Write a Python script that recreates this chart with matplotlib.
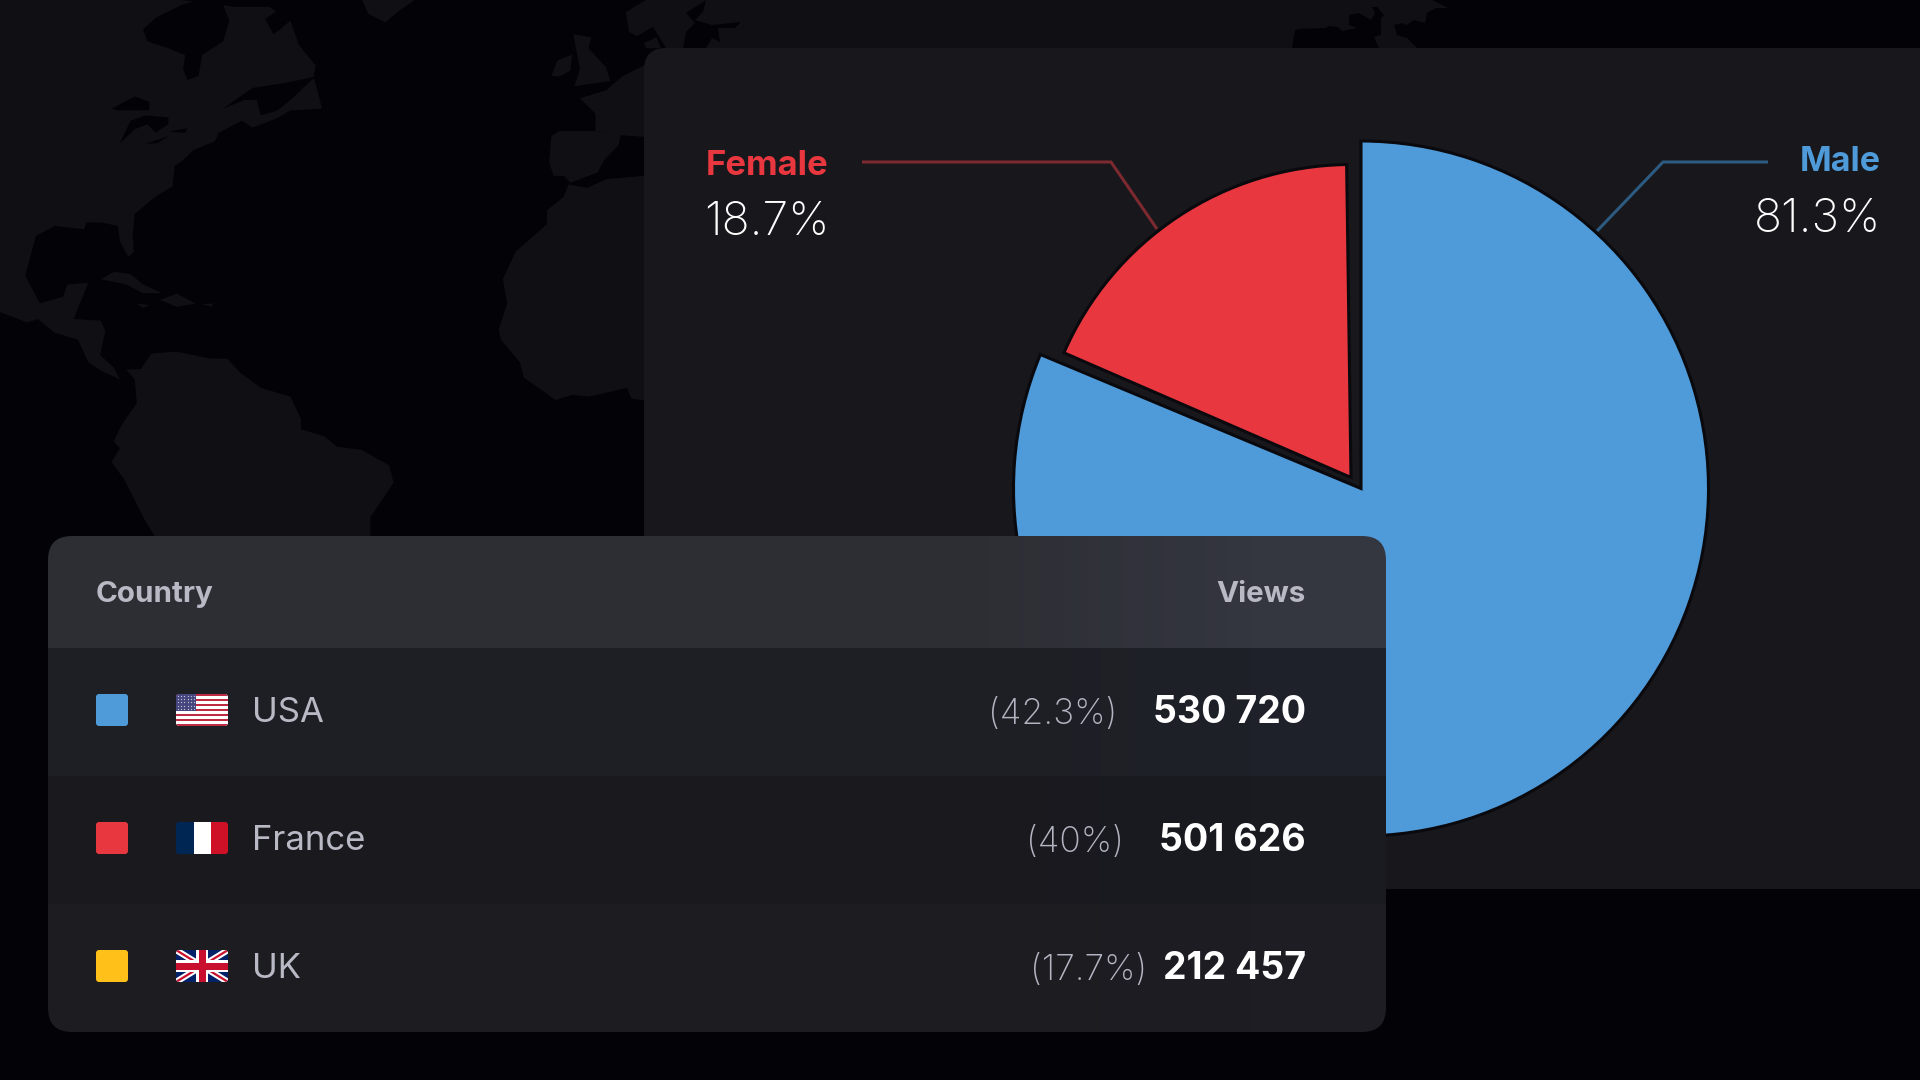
import numpy as np
import matplotlib
matplotlib.use("Agg")
import matplotlib.pyplot as plt
from matplotlib.patches import FancyBboxPatch, Polygon, Rectangle
from matplotlib.colors import to_rgb

# ---------- chart data ----------
genders = ["Male", "Female"]
gender_share = [81.3, 18.7]
gender_labels = ["81.3%", "18.7%"]
gender_colors = ["#4f9ad9", "#e9373f"]
leader_colors = ["#2c5a80", "#7c2a30"]

countries = ["USA", "France", "UK"]
country_share = ["(42.3%)", "(40%)", "(17.7%)"]
country_views = ["530 720", "501 626", "212 457"]
country_colors = ["#4f9ad9", "#e9373f", "#ffc01a"]
share_right = [1117, 1124, 1147]

# ---------- style ----------
BG = "#020207"
LAND = "#0f0f14"
PANEL = "#17171c"
GREY = "#b9b9c6"
GREY2 = "#b4b4c2"
FONT = "Inter"

fig = plt.figure(figsize=(19.2, 10.8), dpi=100, facecolor=BG)
ax = fig.add_axes([0, 0, 1, 1])
ax.set_facecolor(BG)


def Y(py):
    return 1080 - py


# ---------- decorative world map, traced at 2.376x horizontally, 2.9x vertically ----------
MAP_X, MAP_Y = 2.376, 2.9
land_shapes = [
    # North and Central America
    [(0, 0), (430, 0), (560, 20), (640, 20), (690, 60), (710, 130), (750, 190), (745, 222), (760, 290), (765, 315),
     (690, 320), (660, 342), (600, 370), (575, 350), (520, 385), (510, 410), (460, 435), (430, 470), (415, 480),
     (410, 540), (370, 570), (320, 620), (315, 680), (318, 730), (305, 745), (285, 700), (280, 655), (240, 645),
     (205, 645), (200, 665), (130, 655), (85, 685), (60, 800), (95, 880), (150, 860), (160, 825), (210, 820),
     (175, 925), (240, 930), (250, 960), (238, 1030), (270, 1065), (285, 1100), (240, 1075), (210, 1050),
     (185, 985), (130, 965), (90, 925), (65, 935), (0, 905)],
    # Caribbean
    [(240, 810), (270, 788), (310, 795), (340, 825), (385, 850), (340, 850), (300, 825)],
    [(380, 870), (420, 852), (465, 880), (420, 890)],
    [(325, 880), (355, 885), (340, 893)],
    [(480, 882), (505, 880), (505, 890)],
    # South America
    [(300, 1072), (320, 1100), (325, 1170), (290, 1230), (270, 1280), (285, 1300), (265, 1340), (295, 1390),
     (345, 1510), (370, 1560), (880, 1560), (880, 1500), (935, 1400), (925, 1350), (860, 1305), (800, 1295),
     (770, 1265), (715, 1245), (715, 1215), (690, 1150), (620, 1125), (570, 1080), (540, 1040), (500, 1040),
     (460, 1030), (420, 1020), (360, 1025), (335, 1070)],
    # Iceland
    [(860, 0), (875, 40), (915, 65), (950, 30), (985, 0)],
    # Ireland, Britain
    [(1310, 220), (1325, 175), (1360, 158), (1355, 205), (1330, 222)],
    [(1365, 250), (1378, 200), (1362, 100), (1405, 108), (1398, 140), (1440, 195), (1450, 235)],
    # Continental Europe
    [(1378, 285), (1440, 262), (1480, 220), (1530, 190), (1570, 150), (1570, 400), (1475, 392), (1415, 380),
     (1415, 330)],
    [(1310, 395), (1330, 380), (1410, 380), (1475, 390), (1470, 420), (1435, 465), (1420, 500), (1355, 530),
     (1340, 510), (1315, 510), (1305, 470)],
    # Africa
    [(1350, 535), (1395, 545), (1440, 520), (1570, 505), (1570, 1170), (1500, 1155), (1490, 1125), (1400, 1150),
     (1360, 1145), (1320, 1160), (1245, 1095), (1235, 1050), (1190, 985), (1185, 955), (1205, 880), (1195, 810),
     (1225, 730), (1300, 650), (1300, 610), (1340, 570)],
    # Denmark
    [(1530, 125), (1560, 108), (1570, 140), (1535, 140)],
]
water_shapes = [
    # Hudson Bay and Arctic channels
    [(340, 85), (372, 50), (430, 15), (470, 0), (525, 0), (545, 60), (530, 120), (480, 160), (472, 220), (445, 232),
     (435, 200), (440, 160), (400, 140), (350, 120)],
    [(630, 55), (650, 100), (690, 60), (695, 30), (715, 0), (635, 0), (660, 30)],
    # Great Lakes
    [(265, 315), (320, 280), (355, 295), (355, 320), (280, 320)],
    [(285, 415), (310, 350), (345, 335), (400, 340), (400, 360), (370, 385), (350, 360), (320, 375)],
    [(345, 418), (400, 395), (375, 415)],
    [(400, 382), (445, 372), (440, 385)],
    # Gulf of St Lawrence
    [(530, 315), (600, 255), (680, 240), (750, 222), (690, 290), (660, 320), (620, 335), (610, 290), (580, 290)],
]
for shape in land_shapes:
    ax.add_patch(Polygon([(a / MAP_X, Y(b / MAP_Y)) for a, b in shape], fc=LAND, ec="none", zorder=1))
for shape in water_shapes:
    ax.add_patch(Polygon([(a / MAP_X, Y(b / MAP_Y)) for a, b in shape], fc=BG, ec="none", zorder=2))

# Land above the panel (traced in full-size pixels)
top_land = [(646, 0), (1432, 0), (1448, 8), (1436, 8), (1427, 13), (1425, 23), (1414, 20), (1407, 25), (1402, 23),
            (1394, 25), (1397, 35), (1407, 38), (1417, 48), (1379, 48), (1374, 37), (1381, 35), (1381, 18),
            (1384, 15), (1377, 7), (1372, 7), (1375, 13), (1371, 20), (1359, 13), (1349, 15), (1349, 25), (1357, 28),
            (1342, 31), (1338, 27), (1328, 26), (1326, 28), (1300, 29), (1295, 30), (1292, 48), (666, 48), (653, 27),
            (637, 36), (629, 32), (626, 12)]
baltic = [(686, 13), (706, 0), (703, 12), (695, 20), (712, 25), (741, 22), (735, 28), (718, 28), (720, 42), (712, 38),
          (706, 48), (683, 48), (686, 32), (695, 23)]
ax.add_patch(Polygon([(a, Y(b)) for a, b in top_land], fc=LAND, ec="none", zorder=1))
ax.add_patch(Polygon([(a, Y(b)) for a, b in baltic], fc=BG, ec="none", zorder=2))

# ---------- pie panel ----------
ax.add_patch(FancyBboxPatch((644, Y(889)), 1400, 841, boxstyle="round,pad=0,rounding_size=22",
                            fc=PANEL, ec="none", zorder=3))

wedges, _ = ax.pie(gender_share, colors=gender_colors, startangle=90, counterclock=False,
                   radius=347.5, center=(1361, Y(488.5)), frame=True,
                   wedgeprops=dict(edgecolor="#09090e", linewidth=2.2, joinstyle="miter", zorder=4))
female = wedges[1]
female.set_radius(313)
female.set_center((1351, Y(477.5)))
female.set_theta1(female.theta1 + 0.8)
female.set_theta2(female.theta2 - 0.8)

# Leader lines
ax.plot([1768, 1663, 1597], [Y(162), Y(162), Y(231)], color=leader_colors[0], lw=2.2, zorder=4,
        solid_joinstyle="miter", solid_capstyle="butt")
ax.plot([862, 1111, 1157], [Y(162), Y(162), Y(229)], color=leader_colors[1], lw=2.2, zorder=4,
        solid_joinstyle="miter", solid_capstyle="butt")


def label(x, y, s, size, color, weight="normal", ha="left"):
    ax.text(x, Y(y), s, fontsize=size, color=color, fontweight=weight, ha=ha, va="baseline",
            family=FONT, zorder=10)


label(1881, 171, genders[0], 24.5, gender_colors[0], "bold", "right")
label(1881, 232, gender_labels[0], 33.4, "white", "light", "right")
label(828, 175, genders[1], 25, gender_colors[1], "bold", "right")
label(830, 235, gender_labels[1], 33.4, "white", "light", "right")

# ---------- table ----------
TX0, TX1, TY0, TY1 = 48, 1386, 536, 1032
bands = [(536, 648, "#2d2e33", "#343640"), (648, 776, "#1e1f24", "#1e2129"),
         (776, 904, "#19191e", "#1a1b21"), (904, 1032, "#1c1c21", "#1d1d23")]
w = TX1 - TX0
h = TY1 - TY0
img = np.zeros((h, w, 3))
ramp = np.clip((np.arange(w) + TX0 - 950) / 300, 0, 1)[:, None]
for a, b, c0, c1 in bands:
    img[a - TY0:b - TY0] = (1 - ramp) * np.array(to_rgb(c0)) + ramp * np.array(to_rgb(c1))
clip = FancyBboxPatch((TX0, Y(TY1)), w, h, boxstyle="round,pad=0,rounding_size=24", fc="none", ec="none",
                      transform=ax.transData, zorder=5)
ax.add_patch(clip)
im = ax.imshow(img, extent=(TX0, TX1, Y(TY1), Y(TY0)), origin="upper", aspect="auto", interpolation="nearest", zorder=5)
im.set_clip_path(clip)

label(96, 602, "Country", 21.3, GREY, "bold")
label(1306, 602, "Views", 21.3, GREY, "bold", "right")

row_tops = [694, 822, 950]
baselines = [722, 850, 978]
for i in range(3):
    ax.add_patch(FancyBboxPatch((96, Y(row_tops[i] + 32)), 32, 32, boxstyle="round,pad=0,rounding_size=3",
                                fc=country_colors[i], ec="none", zorder=6))
    label(252, baselines[i], countries[i], 25, GREY)
    label(share_right[i], baselines[i] + 2, country_share[i], 25.5, GREY2, "light", "right")
    label(1306, baselines[i] + 1, country_views[i], 27, "white", "bold", "right")

# ---------- flags ----------
FX, FW, FH = 176, 52, 32


def flag_clip(top):
    p = FancyBboxPatch((FX, Y(top + FH)), FW, FH, boxstyle="round,pad=0,rounding_size=3", fc="none", ec="none",
                       zorder=6)
    ax.add_patch(p)
    return p


def frect(top, x, y, wd, ht, color, clip_patch, z=7):
    r = Rectangle((FX + x, Y(top + y + ht)), wd, ht, fc=color, ec="none", zorder=z)
    ax.add_patch(r)
    r.set_clip_path(clip_patch)


# USA
t = row_tops[0]
cp = flag_clip(t)
frect(t, 0, 0, FW, FH, "#ffffff", cp, 7)
for k in range(0, 13, 2):
    frect(t, 0, k * FH / 13, FW, FH / 13, "#bf2a43", cp, 7.1)
frect(t, 0, 0, 20, FH * 7 / 13, "#46467f", cp, 7.2)
for r_ in range(5):
    for c_ in range(6):
        ax.plot(FX + 2 + c_ * 3.2, Y(t + 2 + r_ * 3.2), "o", ms=0.9, mfc="#c8c8dc", mec="none", zorder=7.3)

# France
t = row_tops[1]
cp = flag_clip(t)
frect(t, 0, 0, 17.5, FH, "#002654", cp)
frect(t, 17.5, 0, 17.5, FH, "#ffffff", cp)
frect(t, 35, 0, 17, FH, "#ce1126", cp)

# UK
t = row_tops[2]
cp = flag_clip(t)
frect(t, 0, 0, FW, FH, "#012169", cp)
for (xa, ya, xb, yb) in [(0, 0, FW, FH), (0, FH, FW, 0)]:
    for color, lw, z in [("#ffffff", 4.5, 7.1), ("#c8102e", 1.6, 7.2)]:
        ln, = ax.plot([FX + xa, FX + xb], [Y(t + ya), Y(t + yb)], color=color, lw=lw, zorder=z, solid_capstyle="butt")
        ln.set_clip_path(cp)
frect(t, 20, 0, 12, FH, "#ffffff", cp, 7.3)
frect(t, 0, 10, FW, 12, "#ffffff", cp, 7.3)
frect(t, 22.5, 0, 7, FH, "#c8102e", cp, 7.4)
frect(t, 0, 12.5, FW, 7, "#c8102e", cp, 7.4)

ax.set_xlim(0, 1920)
ax.set_ylim(0, 1080)
ax.set_aspect("auto")
ax.axis("off")
fig.savefig("out.png", dpi=100, facecolor=BG)
